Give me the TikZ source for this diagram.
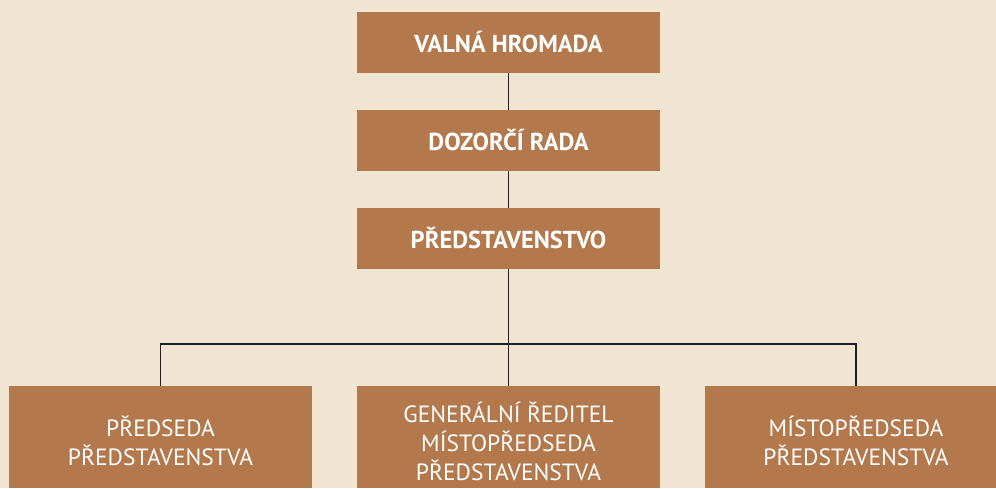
\documentclass[tikz,border=0pt]{standalone}
\usepackage{fontspec}
\setmainfont{PT Sans}
\definecolor{bg}{HTML}{F0E5D3}
\definecolor{boxc}{HTML}{B3784B}
\definecolor{linec}{HTML}{231F20}
\begin{document}
\begin{tikzpicture}[x=1pt,y=-1pt,
  topbox/.style={fill=boxc,draw=none,minimum width=303pt,minimum height=61pt,inner sep=0pt,text=white,font=\fontsize{24.5}{28}\selectfont\bfseries},
  botbox/.style={fill=boxc,draw=none,inner sep=0pt,text=white,align=center,font=\fontsize{23.5}{29}\selectfont},
  conn/.style={draw=linec,line width=1.1pt}]
\fill[bg] (0,0) rectangle (996,488);
\useasboundingbox (0,0) rectangle (996,488);
\node[topbox] (vh) at (508.5,42.5) {VALNÁ HROMADA};
\node[topbox] (dr) at (508.5,140.5) {DOZORČÍ RADA};
\node[topbox] (ps) at (508.5,238.5) {PŘEDSTAVENSTVO};
\fill[boxc] (9,386) rectangle (312,488);
\fill[boxc] (357,386) rectangle (660,488);
\fill[boxc] (705,386) rectangle (996,488);
\node[botbox] (b1) at (160.5,441) {PŘEDSEDA\\PŘEDSTAVENSTVA};
\node[botbox] (b2) at (508.5,441) {GENERÁLNÍ ŘEDITEL\\MÍSTOPŘEDSEDA\\PŘEDSTAVENSTVA};
\node[botbox] (b3) at (856,441) {MÍSTOPŘEDSEDA\\PŘEDSTAVENSTVA};
\coordinate (c1) at (160.5,386);
\coordinate (c2) at (508.5,386);
\coordinate (c3) at (856,386);
\draw[conn] (vh.south) -- (dr.north);
\draw[conn] (dr.south) -- (ps.north);
\draw[conn] (ps.south) -- (c2);
\draw[conn] (c1) -- (160.5,344) -- (856,344) -- (c3);
\end{tikzpicture}
\end{document}
